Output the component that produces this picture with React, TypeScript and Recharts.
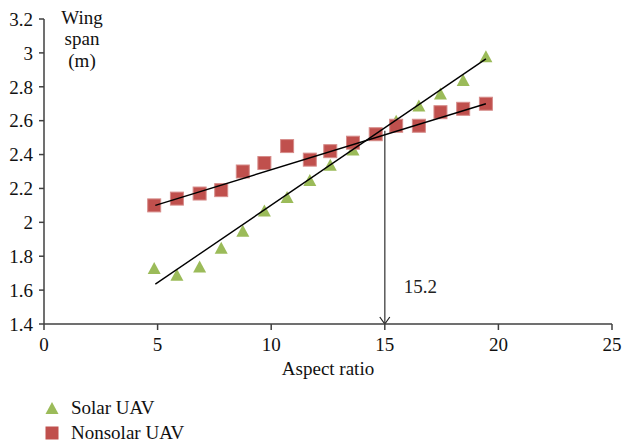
import React from 'react';
import { ScatterChart, Scatter, XAxis, YAxis, ReferenceLine, Legend, Label } from 'recharts';

const aspectRatio = [4.85, 5.85, 6.85, 7.8, 8.75, 9.7, 10.7, 11.7, 12.6, 13.6, 14.6, 15.5, 16.5, 17.45, 18.45, 19.45];
const solarSpan = [1.73, 1.69, 1.74, 1.85, 1.95, 2.07, 2.15, 2.25, 2.34, 2.43, 2.52, 2.6, 2.69, 2.76, 2.84, 2.98];
const nonsolarSpan = [2.1, 2.14, 2.17, 2.19, 2.3, 2.35, 2.45, 2.37, 2.42, 2.47, 2.52, 2.57, 2.57, 2.65, 2.67, 2.7];

const solarTrend = [{ x: 4.9, y: 1.635 }, { x: 19.45, y: 2.965 }];
const nonsolarTrend = [{ x: 4.9, y: 2.1 }, { x: 19.45, y: 2.7 }];
const crossover = [{ x: 15, y: 2.54 }, { x: 15, y: 1.4 }];
const crossoverLabel = '15.2';

const xTicks = [0, 5, 10, 15, 20, 25];
const yTicks = [1.4, 1.6, 1.8, 2, 2.2, 2.4, 2.6, 2.8, 3, 3.2];

const solarData = aspectRatio.map((x, i) => ({ x, y: solarSpan[i] }));
const nonsolarData = aspectRatio.map((x, i) => ({ x, y: nonsolarSpan[i] }));

const GREEN = '#9BBB59';
const RED = '#C0504D';
const AXIS = '#404040';
const FONT = '"Liberation Serif", "Times New Roman", serif';
const FS = 19;

const Triangle = (props: any) => {
  const { cx, cy } = props;
  const w = 13, h = 12;
  return <polygon points={`${cx - w / 2},${cy + h / 2} ${cx + w / 2},${cy + h / 2} ${cx},${cy - h / 2}`} fill={GREEN} />;
};

const Square = (props: any) => {
  const { cx, cy } = props;
  const s = 13;
  return <rect x={cx - s / 2} y={cy - s / 2} width={s} height={s} fill={RED} stroke="#D68C8A" strokeWidth={1} />;
};

const NoDot = () => <g />;

const ArrowLine = (props: any) => {
  const { x1, y1, x2, y2 } = props;
  return (
    <g>
      <line x1={x1} y1={y1} x2={x2} y2={y2} stroke="#595959" strokeWidth={1.5} />
      <polyline points={`${x2 - 5},${y2 - 7} ${x2},${y2} ${x2 + 5},${y2 - 7}`} fill="none" stroke="#222" strokeWidth={1.2} />
      <text x={x2 + 19} y={y2 - 31} fontFamily={FONT} fontSize={FS} fill="#222">{crossoverLabel}</text>
    </g>
  );
};

const LegendContent = () => (
  <div style={{ fontFamily: FONT, fontSize: FS, color: '#111' }}>
    <div style={{ display: 'flex', alignItems: 'center', height: 25 }}>
      <svg width={14} height={14} style={{ marginRight: 12 }}>
        <polygon points="0.5,13 13.5,13 7,1" fill={GREEN} />
      </svg>
      <span>Solar UAV</span>
    </div>
    <div style={{ display: 'flex', alignItems: 'center', height: 25 }}>
      <svg width={14} height={14} style={{ marginRight: 12 }}>
        <rect x={0.5} y={0.5} width={13} height={13} fill={RED} />
      </svg>
      <span>Nonsolar UAV</span>
    </div>
  </div>
);

const YTitle = (props: any) => {
  const vb = props.viewBox || { x: 0, y: 19, width: 44, height: 305 };
  const cx = vb.x + vb.width + 38;
  const top = vb.y + 5;
  return (
    <text x={cx} y={top} textAnchor="middle" fontFamily={FONT} fontSize={FS} fill="#111">
      <tspan x={cx} dy="0">Wing</tspan>
      <tspan x={cx} dy="21">span</tspan>
      <tspan x={cx} dy="22">(m)</tspan>
    </text>
  );
};

const fmt = (v: number) => String(Number(v.toFixed(1)));

export default function App() {
  return (
    <div style={{ position: 'absolute', left: 0, top: 0, width: 624, height: 446, background: '#fff' }}>
      <ScatterChart width={624} height={446} margin={{ top: 19, right: 12, bottom: 72, left: 0 }}>
        <XAxis
          type="number"
          dataKey="x"
          domain={[0, 25]}
          ticks={xTicks}
          tickSize={6}
          tickMargin={8}
          height={50}
          stroke={AXIS}
          strokeWidth={1.5}
          tick={{ fill: '#111', fontFamily: FONT, fontSize: FS }}
          allowDataOverflow
        >
          <Label value="Aspect ratio" position="insideBottom" offset={-1} style={{ fill: '#111', fontFamily: FONT, fontSize: FS }} />
        </XAxis>
        <YAxis
          type="number"
          dataKey="y"
          domain={[1.4, 3.2]}
          ticks={yTicks}
          tickFormatter={fmt}
          tickSize={5}
          tickMargin={6}
          width={44}
          stroke={AXIS}
          strokeWidth={1.5}
          tick={{ fill: '#111', fontFamily: FONT, fontSize: FS }}
          allowDataOverflow
          interval={0}
        >
          <Label content={<YTitle />} />
        </YAxis>
        <Scatter name="Solar UAV" data={solarData} shape={<Triangle />} isAnimationActive={false} />
        <Scatter name="Nonsolar UAV" data={nonsolarData} shape={<Square />} isAnimationActive={false} />
        <Scatter data={solarTrend} line={{ stroke: '#000', strokeWidth: 1.4 }} shape={<NoDot />} legendType="none" isAnimationActive={false} />
        <Scatter data={nonsolarTrend} line={{ stroke: '#000', strokeWidth: 1.4 }} shape={<NoDot />} legendType="none" isAnimationActive={false} />
        <ReferenceLine segment={crossover} shape={<ArrowLine />} ifOverflow="visible" />
        <Legend
          layout="vertical"
          align="center"
          verticalAlign="middle"
          content={<LegendContent />}
          wrapperStyle={{ left: 45, top: 395, width: 200, height: 52 }}
        />
      </ScatterChart>
    </div>
  );
}
